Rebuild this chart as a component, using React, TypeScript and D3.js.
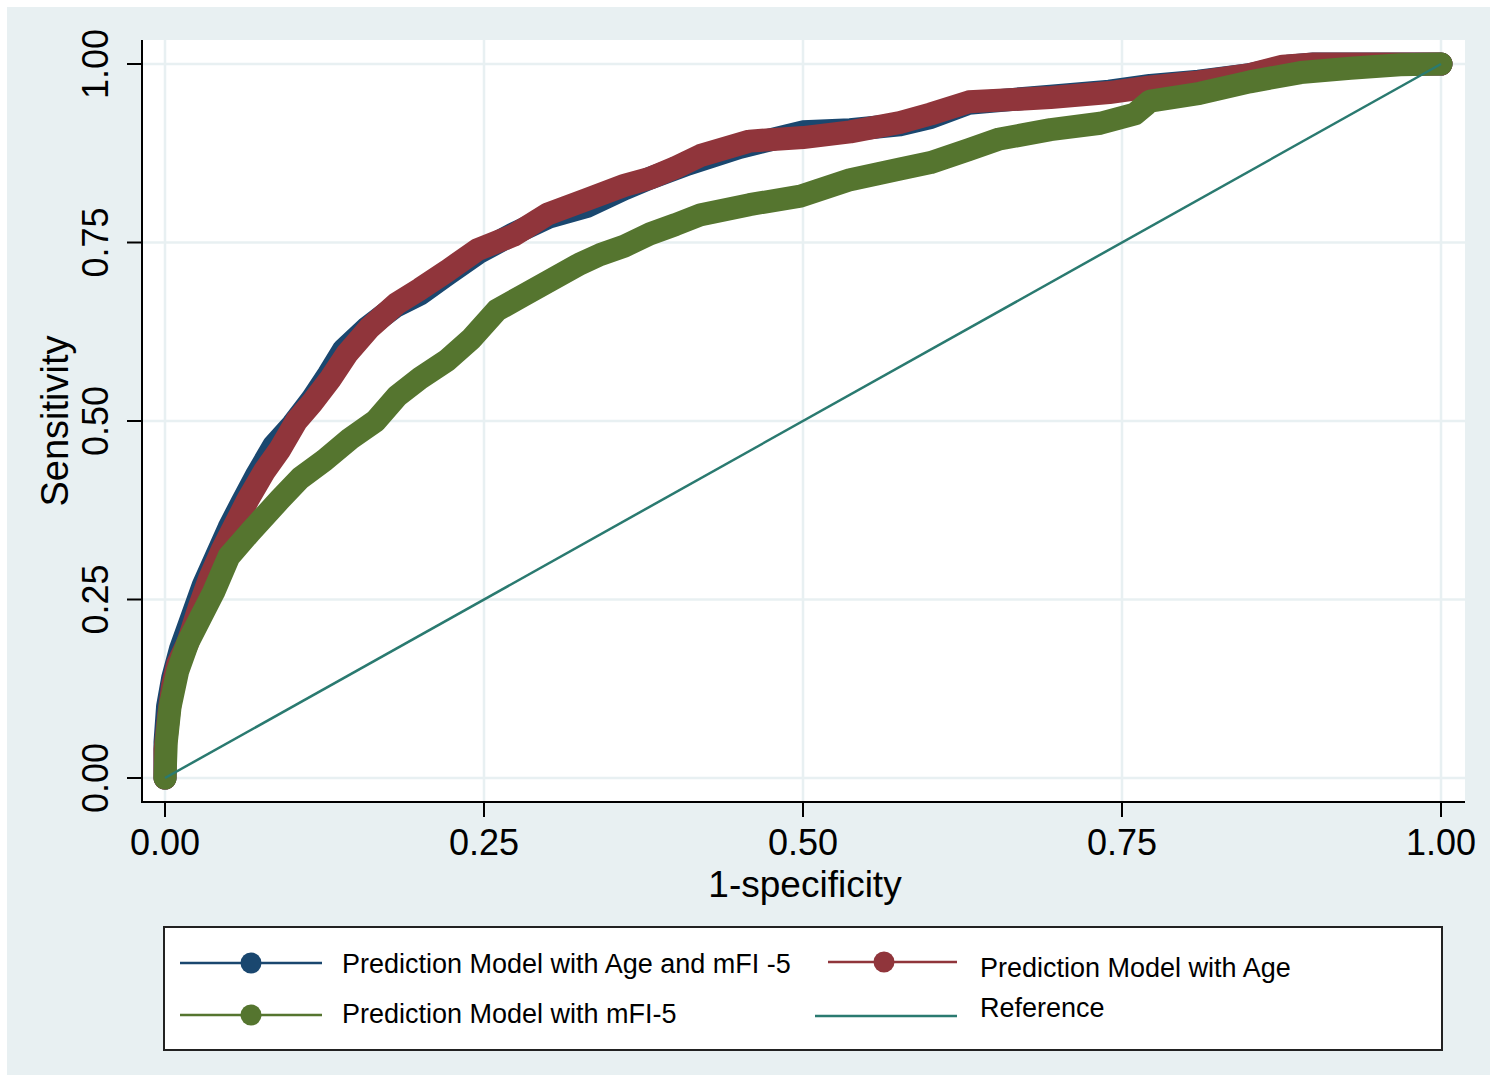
import React from "react";
import * as d3 from "d3";

// ROC points [1-specificity, sensitivity]
const ageMfi: [number, number][] = [
  [0, 0], [0, 0.05], [0.002, 0.1], [0.006, 0.14], [0.012, 0.18], [0.02, 0.22],
  [0.03, 0.27], [0.04, 0.31], [0.05, 0.35], [0.06, 0.385], [0.072, 0.425],
  [0.085, 0.465], [0.1, 0.495], [0.115, 0.53], [0.128, 0.565], [0.14, 0.6],
  [0.158, 0.63], [0.18, 0.66], [0.2, 0.678], [0.221, 0.705], [0.245, 0.735],
  [0.273, 0.762], [0.3, 0.785], [0.33, 0.8], [0.36, 0.825], [0.38, 0.84],
  [0.41, 0.86], [0.45, 0.883], [0.5, 0.905], [0.537, 0.908], [0.576, 0.915],
  [0.6, 0.925], [0.63, 0.945], [0.694, 0.955], [0.74, 0.962], [0.772, 0.97],
  [0.81, 0.976], [0.85, 0.985], [0.88, 0.997], [0.9, 1], [1, 1],
];

const ageOnly: [number, number][] = [
  [0, 0], [0, 0.04], [0.003, 0.09], [0.006, 0.13], [0.01, 0.16], [0.018, 0.19],
  [0.027, 0.24], [0.035, 0.28], [0.045, 0.32], [0.055, 0.355], [0.065, 0.39],
  [0.078, 0.43], [0.09, 0.46], [0.103, 0.5], [0.115, 0.525], [0.13, 0.56],
  [0.143, 0.595], [0.16, 0.63], [0.182, 0.665], [0.2, 0.685], [0.221, 0.71],
  [0.245, 0.74], [0.273, 0.76], [0.3, 0.79], [0.33, 0.81], [0.36, 0.83],
  [0.38, 0.84], [0.4, 0.855], [0.42, 0.872], [0.458, 0.892], [0.5, 0.897],
  [0.537, 0.905], [0.576, 0.918], [0.6, 0.93], [0.63, 0.947], [0.694, 0.953],
  [0.74, 0.96], [0.772, 0.968], [0.81, 0.975], [0.85, 0.985], [0.876, 0.997],
  [0.9, 1], [1, 1],
];

const mfiOnly: [number, number][] = [
  [0, 0], [0.001, 0.05], [0.004, 0.1], [0.01, 0.15], [0.018, 0.19], [0.028, 0.225],
  [0.038, 0.26], [0.05, 0.31], [0.067, 0.345], [0.09, 0.39], [0.106, 0.42],
  [0.125, 0.445], [0.145, 0.475], [0.165, 0.5], [0.182, 0.535], [0.2, 0.56],
  [0.221, 0.585], [0.24, 0.615], [0.26, 0.655], [0.28, 0.675], [0.3, 0.695],
  [0.325, 0.72], [0.341, 0.733], [0.36, 0.745], [0.38, 0.762], [0.4, 0.775],
  [0.42, 0.789], [0.458, 0.803], [0.498, 0.815], [0.537, 0.838], [0.576, 0.853],
  [0.6, 0.862], [0.63, 0.88], [0.654, 0.895], [0.694, 0.908], [0.733, 0.917],
  [0.76, 0.93], [0.772, 0.948], [0.811, 0.959], [0.85, 0.975], [0.89, 0.988],
  [0.929, 0.994], [0.968, 0.999], [1, 1],
];

const reference: [number, number][] = [[0, 0], [1, 1]];

const tickValues = [0, 0.25, 0.5, 0.75, 1];

const colors = {
  ageMfi: "#1a476f",
  age: "#90353b",
  mfi: "#55752f",
  ref: "#2a7a70",
};

const font = "'Liberation Sans', Arial, Helvetica, sans-serif";
const bg = "#e8f0f2";

export default function App() {
  const x = d3.scaleLinear().domain([0, 1]).range([165, 1441]);
  const y = d3.scaleLinear().domain([0, 1]).range([778, 64]);
  const line = d3
    .line<[number, number]>()
    .x((d) => x(d[0]))
    .y((d) => y(d[1]));

  const plot = { left: 142, top: 40, right: 1465, bottom: 802 };

  const curve = (data: [number, number][], color: string) => (
    <path
      d={line(data) || ""}
      fill="none"
      stroke={color}
      strokeWidth={23}
      strokeLinejoin="round"
      strokeLinecap="round"
    />
  );

  return (
    <svg
      width={1497}
      height={1078}
      style={{ position: "absolute", left: 0, top: 0, fontFamily: font }}
    >
      <rect x={0} y={0} width={1497} height={1078} fill="#fff" />
      <rect x={7} y={7} width={1483} height={1068} fill={bg} />
      <rect
        x={plot.left}
        y={plot.top}
        width={plot.right - plot.left}
        height={plot.bottom - plot.top}
        fill="#fff"
      />

      {/* grid */}
      {tickValues.map((t) => (
        <g key={"g" + t}>
          <line x1={x(t)} x2={x(t)} y1={plot.top} y2={plot.bottom} stroke={bg} strokeWidth={2.5} />
          <line x1={plot.left} x2={plot.right} y1={y(t)} y2={y(t)} stroke={bg} strokeWidth={2.5} />
        </g>
      ))}

      {/* curves */}
      {curve(ageMfi, colors.ageMfi)}
      {curve(ageOnly, colors.age)}
      {curve(mfiOnly, colors.mfi)}
      <path d={line(reference) || ""} fill="none" stroke={colors.ref} strokeWidth={2.5} />

      {/* axes */}
      <line x1={plot.left} x2={plot.left} y1={plot.top} y2={plot.bottom + 1} stroke="#000" strokeWidth={2} />
      <line x1={plot.left - 1} x2={plot.right} y1={plot.bottom} y2={plot.bottom} stroke="#000" strokeWidth={2} />
      {tickValues.map((t) => (
        <g key={"t" + t}>
          <line x1={plot.left - 15} x2={plot.left} y1={y(t)} y2={y(t)} stroke="#000" strokeWidth={2} />
          <text
            transform={`translate(108,${y(t)}) rotate(-90)`}
            textAnchor="middle"
            fontSize={36}
            fill="#000"
          >
            {d3.format(".2f")(t)}
          </text>
          <line x1={x(t)} x2={x(t)} y1={plot.bottom} y2={plot.bottom + 15} stroke="#000" strokeWidth={2} />
          <text x={x(t)} y={855} textAnchor="middle" fontSize={36} fill="#000">
            {d3.format(".2f")(t)}
          </text>
        </g>
      ))}

      <text x={805} y={897} textAnchor="middle" fontSize={37} fill="#000">
        1-specificity
      </text>
      <text
        transform={`translate(68,${y(0.5)}) rotate(-90)`}
        textAnchor="middle"
        fontSize={38}
        fill="#000"
      >
        Sensitivity
      </text>

      {/* legend */}
      <rect x={164} y={927} width={1278} height={123} fill="#fff" stroke="#222" strokeWidth={2} />
      <line x1={180} x2={322} y1={963} y2={963} stroke={colors.ageMfi} strokeWidth={2.5} />
      <circle cx={251} cy={963} r={10.5} fill={colors.ageMfi} />
      <text x={342} y={973} fontSize={27} fill="#000">Prediction Model with Age and mFI -5</text>

      <line x1={180} x2={322} y1={1015} y2={1015} stroke={colors.mfi} strokeWidth={2.5} />
      <circle cx={251} cy={1015} r={10.5} fill={colors.mfi} />
      <text x={342} y={1023} fontSize={27} fill="#000">Prediction Model with mFI-5</text>

      <line x1={828} x2={957} y1={962} y2={962} stroke={colors.age} strokeWidth={2.5} />
      <circle cx={884} cy={962} r={10.5} fill={colors.age} />
      <text x={980} y={977} fontSize={27} fill="#000">Prediction Model with Age</text>

      <line x1={815} x2={957} y1={1016} y2={1016} stroke={colors.ref} strokeWidth={2.5} />
      <text x={980} y={1017} fontSize={27} fill="#000">Reference</text>
    </svg>
  );
}
